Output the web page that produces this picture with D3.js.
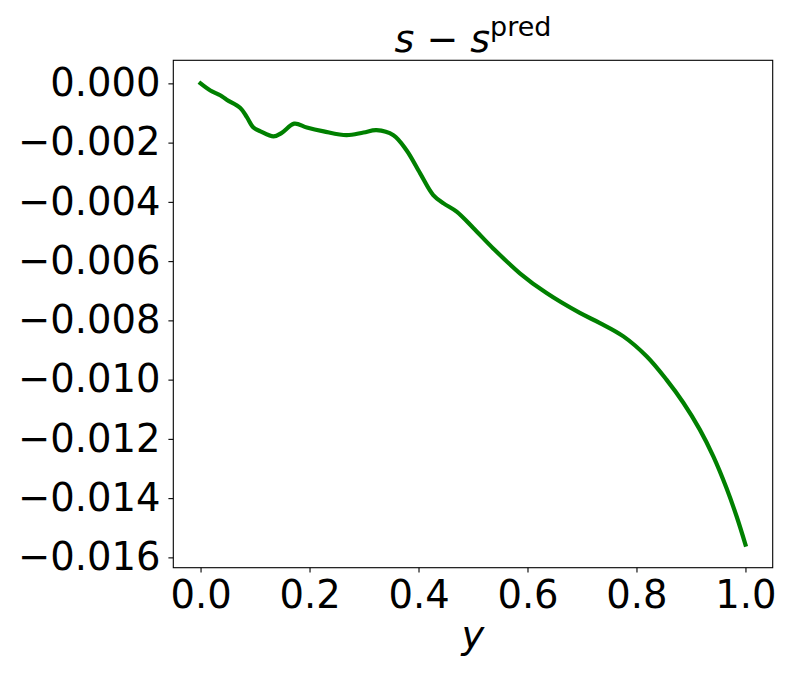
<!DOCTYPE html>
<html>
<head>
<meta charset="utf-8">
<script src="https://cdn.jsdelivr.net/npm/d3@7"></script>
<style>
  html, body { margin: 0; padding: 0; background: #fff; }
  text { font-family: "DejaVu Sans", sans-serif; fill: #000; }
</style>
</head>
<body>
<svg id="chart" width="793" height="680"></svg>
<script>
// ---- data ----
const xValues = [0.000, 0.018, 0.036, 0.048, 0.073, 0.085, 0.097, 0.110, 0.134, 0.149, 0.172, 0.195, 0.226, 0.268, 0.299, 0.323, 0.354, 0.378, 0.403, 0.427, 0.446, 0.470, 0.501, 0.537, 0.586, 0.635, 0.696, 0.733, 0.776, 0.819, 0.855, 0.886, 0.916, 0.941, 0.965, 0.984, 1.000];
const yValues = [0.00000, -0.00024, -0.00040, -0.00055, -0.00083, -0.00114, -0.00149, -0.00162, -0.00179, -0.00167, -0.00136, -0.00149, -0.00162, -0.00175, -0.00166, -0.00158, -0.00175, -0.00226, -0.00304, -0.00377, -0.00405, -0.00433, -0.00489, -0.00557, -0.00641, -0.00708, -0.00775, -0.00809, -0.00854, -0.00922, -0.01000, -0.01078, -0.01168, -0.01259, -0.01365, -0.01463, -0.01557];
const xTicks = [0.0, 0.2, 0.4, 0.6, 0.8, 1.0];
const yTicks = [0.000, -0.002, -0.004, -0.006, -0.008, -0.010, -0.012, -0.014, -0.016];
const lineColor = "#008000";

const svg = d3.select("#chart");
const mLeft = 173.3, mRight = 772.7, mTop = 60.3, mBottom = 567.7;

// matplotlib-style 5% margins
const xExt = d3.extent(xValues), yExt = d3.extent(yValues);
const xPad = (xExt[1] - xExt[0]) * 0.05, yPad = (yExt[1] - yExt[0]) * 0.05;
const x = d3.scaleLinear().domain([xExt[0] - xPad, xExt[1] + xPad]).range([mLeft, mRight]);
const y = d3.scaleLinear().domain([yExt[0] - yPad, yExt[1] + yPad]).range([mBottom, mTop]);

const fontSize = 38.5;

// x axis
const xAxis = svg.append("g").attr("transform", `translate(0,${mBottom})`)
  .call(d3.axisBottom(x).tickValues(xTicks).tickFormat(d3.format(".1f")).tickSizeOuter(0).tickSize(4.9).tickPadding(8.3));
xAxis.select(".domain").remove();
xAxis.selectAll("text").style("font-size", fontSize + "px").attr("font-family", "DejaVu Sans");
xAxis.selectAll("line").attr("stroke", "#000").attr("stroke-width", 1.1);

// y axis
const yAxis = svg.append("g").attr("transform", `translate(${mLeft},0)`)
  .call(d3.axisLeft(y).tickValues(yTicks).tickFormat(d3.format(".3f")).tickSizeOuter(0).tickSize(4.9).tickPadding(8));
yAxis.select(".domain").remove();
yAxis.selectAll("text").style("font-size", fontSize + "px").attr("font-family", "DejaVu Sans");
yAxis.selectAll("line").attr("stroke", "#000").attr("stroke-width", 1.1);

// line
const pts = xValues.map((v, i) => [v, yValues[i]]);
svg.append("path")
  .datum(pts)
  .attr("fill", "none")
  .attr("stroke", lineColor)
  .attr("stroke-width", 4.2)
  .attr("stroke-linecap", "square")
  .attr("stroke-linejoin", "round")
  .attr("d", d3.line().x(d => x(d[0])).y(d => y(d[1])).curve(d3.curveCatmullRom.alpha(0.5)));

// frame
svg.append("rect")
  .attr("x", mLeft).attr("y", mTop)
  .attr("width", mRight - mLeft).attr("height", mBottom - mTop)
  .attr("fill", "none").attr("stroke", "#000").attr("stroke-width", 1.1);

// title: s − s^pred
const title = svg.append("text")
  .attr("x", (mLeft + mRight) / 2).attr("y", 51.5)
  .attr("text-anchor", "middle")
  .style("font-size", "38px");
title.append("tspan").attr("font-style", "italic").text("s");
title.append("tspan").text(" \u2212 ");
title.append("tspan").attr("font-style", "italic").text("s");
title.append("tspan").attr("dy", -16).style("font-size", "27px").text("pred");

// x label
svg.append("text")
  .attr("x", (mLeft + mRight) / 2).attr("y", 648)
  .attr("text-anchor", "middle")
  .attr("font-style", "italic")
  .style("font-size", fontSize + "px")
  .text("y");
</script>
</body>
</html>
